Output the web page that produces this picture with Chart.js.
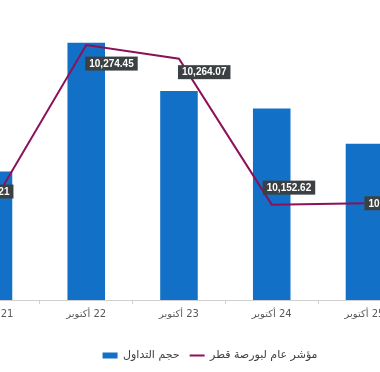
<!DOCTYPE html>
<html><head><meta charset="utf-8">
<script src="https://cdn.jsdelivr.net/npm/chart.js@4"></script>
<style>
html,body{margin:0;padding:0;background:#fff;}
#wrap{position:relative;width:380px;height:372px;overflow:hidden;background:#fff;}
#box{position:absolute;left:-60px;top:0;width:540px;height:372px;}
</style></head><body>
<div id="wrap"><div id="box"><canvas id="c"></canvas></div></div>
<script>
const categories = ['21 أكتوبر', '22 أكتوبر', '23 أكتوبر', '24 أكتوبر', '25 أكتوبر'];
const volumeLabel = 'حجم التداول';
const indexLabel = 'مؤشر عام لبورصة قطر';
const volumeValues = [137.6, 275.6, 224.0, 205.1, 167.4];
const indexValues = [10154.21, 10274.45, 10264.07, 10152.62, 10153.65];

const labelOffsets = [[-32.5, -18], [-1, 11.5], [-1, 6.5], [-9, -24], [0, -7]];

const fmt = v => v.toLocaleString('en-US', {minimumFractionDigits: 2, maximumFractionDigits: 2});

const valueLabels = {
  id: 'valueLabels',
  afterDatasetsDraw(chart) {
    const meta = chart.getDatasetMeta(1);
    const ctx = chart.ctx;
    ctx.save();
    ctx.font = 'bold 10px "Liberation Sans", Arial, sans-serif';
    ctx.textAlign = 'center';
    ctx.textBaseline = 'middle';
    meta.data.forEach((pt, i) => {
      const txt = fmt(indexValues[i]);
      const w = ctx.measureText(txt).width + 8;
      const h = 14;
      const x = pt.x + labelOffsets[i][0];
      const y = pt.y + labelOffsets[i][1];
      ctx.fillStyle = '#3b4142';
      ctx.fillRect(x, y, w, h);
      ctx.fillStyle = '#ffffff';
      ctx.fillText(txt, x + w / 2, y + h / 2 + 0.5);
    });
    ctx.restore();
  }
};

new Chart(document.getElementById('c'), {
  data: {
    labels: categories,
    datasets: [
      {
        type: 'bar',
        label: volumeLabel,
        data: volumeValues,
        backgroundColor: '#1271c7',
        borderWidth: 0,
        categoryPercentage: 1,
        barPercentage: 0.405,
        pointStyle: 'rect',
        yAxisID: 'y',
        order: 1
      },
      {
        type: 'line',
        label: indexLabel,
        data: indexValues,
        borderColor: '#8c105a',
        backgroundColor: '#8c105a',
        borderWidth: 2,
        pointRadius: 0,
        pointHoverRadius: 0,
        pointStyle: 'line',
        tension: 0,
        fill: false,
        yAxisID: 'y1',
        order: 0
      }
    ]
  },
  options: {
    responsive: true,
    maintainAspectRatio: false,
    animation: false,
    layout: {padding: {top: 20, left: 0, right: 0, bottom: 1}},
    plugins: {
      tooltip: {enabled: false},
      legend: {
        position: 'bottom',
        labels: {
          usePointStyle: true,
          pointStyleWidth: 15,
          boxHeight: 6,
          padding: 10,
          color: '#404040',
          font: {family: '"DejaVu Sans", sans-serif', size: 11},
          sort: (a, b) => a.datasetIndex - b.datasetIndex
        }
      }
    },
    scales: {
      x: {
        grid: {display: true, drawOnChartArea: false, tickLength: 4, color: '#d0d0d0', offset: true},
        border: {color: '#d0d0d0'},
        ticks: {
          color: '#595959',
          font: {family: '"DejaVu Sans", sans-serif', size: 10},
          padding: 4,
          maxRotation: 0,
          autoSkip: false,
          callback: (v, i) => '\u200F' + categories[i]
        },
        afterFit: s => { s.height = 40; }
      },
      y: {
        position: 'left',
        min: 0,
        max: 300,
        grid: {display: false},
        border: {display: false},
        ticks: {display: false},
        afterFit: s => { s.width = 7.1; }
      },
      y1: {
        position: 'right',
        min: 10079.8,
        max: 10293.6,
        grid: {display: false},
        border: {display: false},
        ticks: {display: false},
        afterFit: s => { s.width = 69.15; }
      }
    }
  },
  plugins: [valueLabels]
});
</script>
</body></html>
